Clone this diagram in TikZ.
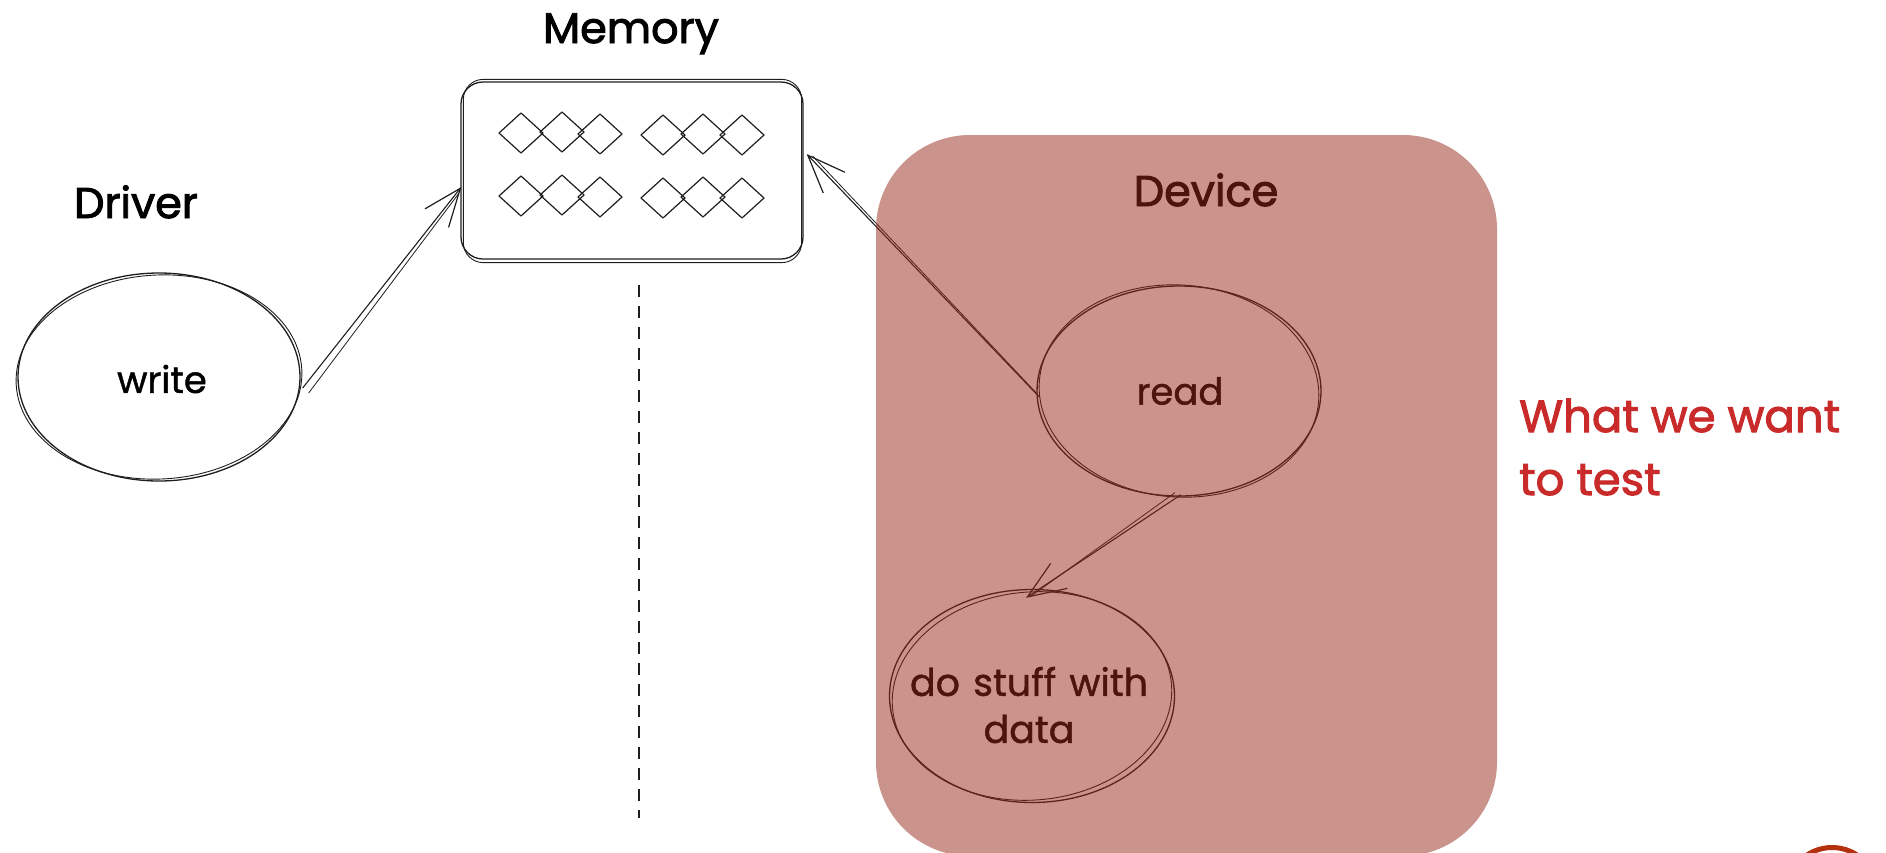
\documentclass[tikz,border=0pt]{standalone}
\usepackage{fontspec}
\setmainfont{Poppins}
\newfontfamily\handfont{Poppins}[FakeBold=1.2]
\newfontfamily\handwide{Poppins}[FakeBold=1.2, WordSpace=1.3]
\newfontfamily\headfont{Poppins}[FakeBold=2.2]
\usetikzlibrary{shapes.geometric,arrows.meta,calc}

\definecolor{ink}{RGB}{30,30,30}
\definecolor{devred}{RGB}{150,40,25}
\definecolor{notered}{RGB}{201,42,42}
\definecolor{logored}{RGB}{180,48,14}

\tikzset{
  sketch/.style={draw=ink, line width=1.3pt},
  sketchtwo/.style={draw=ink, line width=0.9pt},
  oval/.style={ellipse, sketch, inner sep=0pt},
  body/.style={inner sep=0pt, align=center,
    font=\handfont\fontsize{37}{47}\selectfont},
  title/.style={anchor=base, inner sep=0pt, font=\headfont\fontsize{43}{50}\selectfont},
  conn/.style={draw=ink, line width=1.1pt,
    -{Straight Barb[length=38pt,width=30pt,line width=1.2pt]}},
  conntwo/.style={draw=ink, line width=0.8pt},
  membox/.style={sketch, rounded corners=22pt, inner sep=0pt},
  cell/.style={draw=ink, line width=1.2pt, line join=round},
  devbox/.style={fill=devred, fill opacity=0.5, rounded corners=94pt, inner sep=0pt},
  gap/.style={draw=ink, line width=1.4pt, dash pattern=on 12pt off 9pt}
}

\begin{document}
\begin{tikzpicture}[x=1pt,y=-1pt]
\useasboundingbox (0,0) rectangle (1886,852);

% --- titles ---
\node[title] (tmem) at (631,43) {Memory};
\node[title] (tdrv) at (136,218) {Driver};

% --- memory block with its cells ---
\node[membox, minimum width=342pt, minimum height=177pt] (mem) at (632,170.5) {};
\draw[sketchtwo, rounded corners=20pt] ($(mem.north west)+(3,-2)$) rectangle ($(mem.south east)+(-2,3)$);
\foreach \cx/\dy in {521/0,562/-1,600/1, 663/2,703/1,742/2}{
  \foreach \cy in {133,196}{
    \draw[cell] (\cx-22,\cy+\dy) -- (\cx,\cy+\dy-20) -- (\cx+22,\cy+\dy) -- (\cx,\cy+\dy+20) -- cycle;
  }
}

% --- driver side ---
\node[oval, minimum width=282pt, minimum height=208pt] (w) at (159,377) {};
\draw[sketchtwo, rotate around={3:(w.center)}] (w.center) ellipse [x radius=143, y radius=102];
\node[body] (wt) at ($(w.center)+(3,2)$) {write};

% --- separator ---
\coordinate (gtop) at (639,285);
\coordinate (gbot) at (639,818);
\draw[gap] (gtop) -- (gbot);

% --- device side ---
\node[oval, minimum width=284pt, minimum height=210pt] (r) at (1179,391) {};
\draw[sketchtwo, rotate around={-4:(r.center)}] (r.center) ellipse [x radius=140, y radius=106];
\node[body] (rt) at ($(r.center)+(1,0)$) {read};
\node[oval, minimum width=285pt, minimum height=213pt] (d) at (1032,696) {};
\draw[sketchtwo, rotate around={5:(d.center)}] (d.center) ellipse [x radius=140, y radius=104];
\node[body, font=\handwide\fontsize{38}{47}\selectfont] (dt) at ($(d.center)+(-3,9)$) {do stuff with\\data};

% --- connectors ---
\coordinate (wout) at ($(w.east)+(2,11)$);
\coordinate (memin) at ($(mem.west)+(1,16.5)$);
\draw[conn] (wout) -- (memin);
\draw[conntwo] ($(wout)+(6,5)$) -- ($(memin)+(-3,7)$);

\coordinate (rout) at ($(r.west)+(3,6)$);
\coordinate (memback) at ($(mem.east)+(3,-16.5)$);
\draw[conn] (rout) -- (memback);
\draw[conntwo] ($(rout)+(-3,-4)$) -- ($(memback)+(6,2)$);

\coordinate (rdown) at ($(r.south)+(2,-2)$);
\coordinate (din) at ($(d.north)+(-6,9)$);
\draw[conn] (rdown) -- (din);
\draw[conntwo] ($(rdown)+(-6,-2)$) -- ($(din)+(4,-1)$);

% --- device frame, laid over its contents ---
\node[devbox, minimum width=621pt, minimum height=721pt] (dev) at (1186.5,495.5) {};
\node[title, text=devred!50!black] (tdev) at (1206,206) {Device};

% --- note ---
\node[anchor=base west, inner sep=0pt, align=left, text=notered,
      font=\headfont\fontsize{45}{63}\selectfont] (note) at (1519,495) {What we want\\to test};

% --- corner mark ---
\begin{scope}
  \clip (0,0) rectangle (1886,852);
  \node[circle, draw=logored, line width=5pt, minimum size=91pt, inner sep=0pt] (mark) at (1832,893) {};
\end{scope}
\end{tikzpicture}
\end{document}
